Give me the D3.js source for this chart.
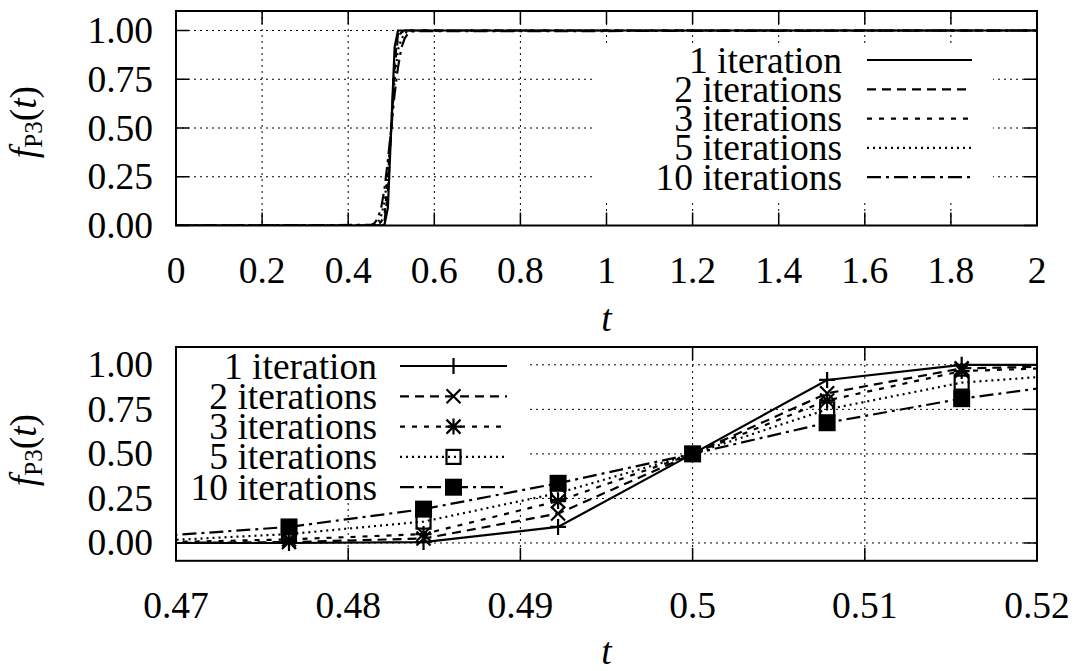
<!DOCTYPE html>
<html>
<head>
<meta charset="utf-8">
<script src="https://cdn.jsdelivr.net/npm/d3@7/dist/d3.min.js"></script>
<style>
  html, body { margin: 0; padding: 0; background: #fff; }
  svg { display: block; }
</style>
</head>
<body>
<svg id="chart" width="1077" height="671"></svg>
<script>
// Sample times (step 1/128 around the switching point) and f_P3(t) per iteration count
const tValues = [0, 0.453125, 0.4609375, 0.46875, 0.4765625, 0.484375, 0.4921875, 0.5,
                 0.5078125, 0.515625, 0.5234375, 0.53125, 0.5390625, 0.546875, 2];
const iter1  = [0, 0,     0,     0,     0,     0.005, 0.09,  0.5, 0.915, 1,     1,     1,     1,     1,     1];
const iter2  = [0, 0,     0,     0,     0.005, 0.025, 0.165, 0.5, 0.84,  0.98,  0.995, 1,     1,     1,     1];
const iter3  = [0, 0,     0,     0.003, 0.02,  0.05,  0.235, 0.5, 0.8,   0.965, 0.99,  1,     1,     1,     1];
const iter5  = [0, 0,     0.002, 0.012, 0.05,  0.12,  0.28,  0.5, 0.75,  0.9,   0.955, 0.985, 0.997, 1,     1];
const iter10 = [0, 0.003, 0.012, 0.037, 0.09,  0.19,  0.335, 0.5, 0.675, 0.81,  0.91,  0.96,  0.985, 0.996, 1];

const seriesNames = ["1 iteration", "2 iterations", "3 iterations", "5 iterations", "10 iterations"];
const seriesValues = [iter1, iter2, iter3, iter5, iter10];

const topXTicks = [0, 0.2, 0.4, 0.6, 0.8, 1, 1.2, 1.4, 1.6, 1.8, 2];
const topXLabels = ["0", "0.2", "0.4", "0.6", "0.8", "1", "1.2", "1.4", "1.6", "1.8", "2"];
const botXTicks = [0.47, 0.48, 0.49, 0.5, 0.51, 0.52];
const botXLabels = ["0.47", "0.48", "0.49", "0.5", "0.51", "0.52"];
const yTicks = [0, 0.25, 0.5, 0.75, 1];
const yLabels = ["0.00", "0.25", "0.50", "0.75", "1.00"];

// line styles: solid, long dash, short dash, dotted, dash-dot
const dashes = [null, "9,6", "5,7", "2,4", "14,5,3,5"];
const markers = ["plus", "cross", "star", "box", "fbox"];

const svg = d3.select("#chart");
const FONT = "Liberation Serif";
const FS = 37.5;
const BASE = 12.5;   // baseline offset that centres digits on a given y
const TICK = 13;
const LW = 2.2;

const series = seriesNames.map((name, i) => ({
  name, dash: dashes[i], marker: markers[i],
  points: tValues.map((t, j) => ({ t, v: seriesValues[i][j] }))
}));

function label(g, x, y, str, anchor) {
  return g.append("text").attr("x", x).attr("y", y).attr("text-anchor", anchor)
    .style("font-family", FONT).style("font-size", FS + "px").attr("fill", "#000").text(str);
}

function markerPath(kind) {
  const s = 8, c = 7;
  if (kind === "plus") return `M${-s},0H${s}M0,${-s}V${s}`;
  if (kind === "cross") return `M${-c},${-c}L${c},${c}M${-c},${c}L${c},${-c}`;
  if (kind === "star") return `M${-s},0H${s}M0,${-s}V${s}M${-c},${-c}L${c},${c}M${-c},${c}L${c},${-c}`;
  return null;
}

function drawMarker(g, kind, x, y) {
  if (kind === "box") {
    g.append("rect").attr("x", x - 7).attr("y", y - 7).attr("width", 14).attr("height", 14)
      .attr("fill", "none").attr("stroke", "#000").attr("stroke-width", LW);
  } else if (kind === "fbox") {
    g.append("rect").attr("x", x - 8.5).attr("y", y - 8.5).attr("width", 17).attr("height", 17)
      .attr("fill", "#000");
  } else {
    g.append("path").attr("d", markerPath(kind)).attr("transform", `translate(${x},${y})`)
      .attr("fill", "none").attr("stroke", "#000").attr("stroke-width", LW);
  }
}

function panel(cfg) {
  const { id, x0, x1, y0, y1, xDomain, yDomain, xTicks, xLabels, showMarkers, legend, tickLabelY, axisLabelY, yLabelCenter } = cfg;
  const x = d3.scaleLinear().domain(xDomain).range([x0, x1]);
  const y = d3.scaleLinear().domain(yDomain).range([y1, y0]);
  const g = svg.append("g");

  g.append("clipPath").attr("id", id).append("rect")
    .attr("x", x0).attr("y", y0).attr("width", x1 - x0).attr("height", y1 - y0);

  // grid
  const grid = g.append("g").attr("stroke", "#000").attr("stroke-width", 1).attr("stroke-dasharray", "2,4");
  xTicks.forEach(t => {
    if (t === xDomain[0] || t === xDomain[1]) return;
    grid.append("line").attr("x1", x(t)).attr("x2", x(t)).attr("y1", y0).attr("y2", y1);
  });
  yTicks.forEach(v => {
    grid.append("line").attr("x1", x0).attr("x2", x1).attr("y1", y(v)).attr("y2", y(v));
  });

  // inward ticks on all four sides
  const ticks = g.append("g").attr("stroke", "#000").attr("stroke-width", 1.5);
  xTicks.forEach(t => {
    ticks.append("line").attr("x1", x(t)).attr("x2", x(t)).attr("y1", y1).attr("y2", y1 - TICK);
    ticks.append("line").attr("x1", x(t)).attr("x2", x(t)).attr("y1", y0).attr("y2", y0 + TICK);
  });
  yTicks.forEach(v => {
    ticks.append("line").attr("x1", x0).attr("x2", x0 + TICK).attr("y1", y(v)).attr("y2", y(v));
    ticks.append("line").attr("x1", x1).attr("x2", x1 - TICK).attr("y1", y(v)).attr("y2", y(v));
  });

  // legend background box
  g.append("rect").attr("x", legend.box[0]).attr("y", legend.box[1])
    .attr("width", legend.box[2] - legend.box[0]).attr("height", legend.box[3] - legend.box[1])
    .attr("fill", "#fff");

  // data lines
  const line = d3.line().x(d => x(d.t)).y(d => y(d.v));
  const plot = g.append("g").attr("clip-path", `url(#${id})`);
  series.forEach(s => {
    plot.append("path").datum(s.points).attr("d", line)
      .attr("fill", "none").attr("stroke", "#000").attr("stroke-width", LW)
      .attr("stroke-dasharray", s.dash).attr("stroke-linejoin", "miter");
    if (showMarkers) {
      s.points.filter(p => p.t >= xDomain[0] && p.t <= xDomain[1])
        .forEach(p => drawMarker(plot, s.marker, x(p.t), y(p.v)));
    }
  });

  // legend entries
  series.forEach((s, i) => {
    const ry = legend.rowY + i * legend.rowStep;
    label(g, legend.textRight, ry + BASE, s.name, "end");
    g.append("line").attr("x1", legend.sample[0]).attr("x2", legend.sample[1])
      .attr("y1", ry).attr("y2", ry).attr("stroke", "#000").attr("stroke-width", LW)
      .attr("stroke-dasharray", s.dash);
    if (showMarkers) drawMarker(g, s.marker, (legend.sample[0] + legend.sample[1]) / 2, ry);
  });

  // frame
  g.append("rect").attr("x", x0).attr("y", y0).attr("width", x1 - x0).attr("height", y1 - y0)
    .attr("fill", "none").attr("stroke", "#000").attr("stroke-width", 2);

  // tick labels
  xTicks.forEach((t, i) => label(g, x(t), tickLabelY, xLabels[i], "middle"));
  yTicks.forEach((v, i) => label(g, x0 - 23, y(v) + BASE, yLabels[i], "end"));

  // axis titles
  label(g, (x0 + x1) / 2, axisLabelY, "t", "middle").style("font-style", "italic");

  const yl = g.append("text").attr("transform", `translate(36,${yLabelCenter}) rotate(-90)`)
    .attr("text-anchor", "middle").style("font-family", FONT).style("font-size", FS + "px").attr("fill", "#000");
  yl.append("tspan").style("font-style", "italic").text("f");
  yl.append("tspan").style("font-size", "25px").attr("dy", 6).text("P3");
  yl.append("tspan").attr("dy", -6).text("(");
  yl.append("tspan").style("font-style", "italic").text("t");
  yl.append("tspan").text(")");
}

panel({
  id: "clipTop", x0: 176, x1: 1037, y0: 11, y1: 225.5,
  xDomain: [0, 2], yDomain: [0, 1.1],
  xTicks: topXTicks, xLabels: topXLabels, showMarkers: false,
  legend: { box: [596, 45, 993, 200], rowY: 60, rowStep: 29.3, textRight: 842, sample: [867, 972] },
  tickLabelY: 282.5, axisLabelY: 331, yLabelCenter: 122
});

panel({
  id: "clipBot", x0: 176, x1: 1037, y0: 347, y1: 560.8,
  xDomain: [0.47, 0.52], yDomain: [-0.1, 1.1],
  xTicks: botXTicks, xLabels: botXLabels, showMarkers: true,
  legend: { box: [176, 347, 528, 502], rowY: 366, rowStep: 30.3, textRight: 377, sample: [400, 507] },
  tickLabelY: 617.5, axisLabelY: 663.5, yLabelCenter: 450
});
</script>
</body>
</html>
